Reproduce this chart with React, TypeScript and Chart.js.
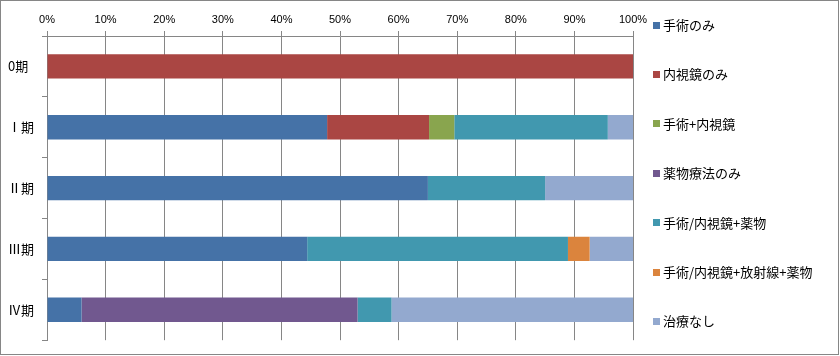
import React, { useEffect, useRef } from "react";
import { Chart, registerables } from "chart.js";

Chart.register(...registerables);

const categories = ["0期", "Ⅰ期", "Ⅱ期", "Ⅲ期", "Ⅳ期"];
const seriesNames = [
  "手術のみ",
  "内視鏡のみ",
  "手術+内視鏡",
  "薬物療法のみ",
  "手術/内視鏡+薬物",
  "手術/内視鏡+放射線+薬物",
  "治療なし",
];
const surgeryOnly = [0, 47.8, 65, 44.4, 5.9];
const endoscopyOnly = [100, 17.4, 0, 0, 0];
const surgeryEndoscopy = [0, 4.3, 0, 0, 0];
const drugOnly = [0, 0, 0, 0, 47.1];
const surgeryEndoDrug = [0, 26.2, 20, 44.5, 5.8];
const surgeryEndoRadDrug = [0, 0, 0, 3.7, 0];
const noTreatment = [0, 4.3, 15, 7.4, 41.2];
const tickValues = [0, 10, 20, 30, 40, 50, 60, 70, 80, 90, 100];
const colors = ["#4572A7", "#AA4643", "#89A54E", "#71588F", "#4198AF", "#DB843D", "#93A9CF"];

const seriesData = [
  surgeryOnly,
  endoscopyOnly,
  surgeryEndoscopy,
  drugOnly,
  surgeryEndoDrug,
  surgeryEndoRadDrug,
  noTreatment,
];

const AXIS = "#868686";
const FONT = "'Noto Sans CJK JP', 'Noto Sans', sans-serif";

export default function App() {
  const ref = useRef<HTMLCanvasElement | null>(null);

  useEffect(() => {
    document.body.style.margin = "0";
    const canvas = ref.current;
    if (!canvas) return;

    const legendPlugin = {
      id: "customLegend",
      afterDraw(chart: any) {
        const ctx = chart.ctx;
        ctx.save();
        chart.data.datasets.forEach((ds: any, i: number) => {
          const cy = 25 + i * 49.4;
          ctx.fillStyle = ds.backgroundColor;
          ctx.fillRect(653, Math.round(cy - 3.5), 7, 7);
          ctx.fillStyle = "#000";
          ctx.font = `13px ${FONT}`;
          ctx.textBaseline = "middle";
          ctx.textAlign = "left";
          ctx.fillText(ds.label, 663, cy);
        });
        ctx.strokeStyle = AXIS;
        ctx.lineWidth = 1;
        ctx.strokeRect(0.5, 0.5, 838, 354);
        ctx.restore();
      },
    };

    const chart = new Chart(canvas, {
      type: "bar",
      data: {
        labels: categories,
        datasets: seriesNames.map((name, i) => ({
          label: name,
          data: seriesData[i],
          backgroundColor: colors[i],
          borderWidth: 0,
          categoryPercentage: 0.4,
          barPercentage: 1,
        })),
      },
      options: {
        indexAxis: "y",
        animation: false,
        responsive: false,
        maintainAspectRatio: false,
        layout: { padding: { left: 8, top: 0, right: 207, bottom: 5 } },
        plugins: {
          legend: { display: false },
          tooltip: { enabled: false },
        },
        scales: {
          x: {
            position: "top",
            stacked: true,
            min: 0,
            max: 100,
            afterFit(scale: any) {
              scale.height = 36;
            },
            afterBuildTicks(scale: any) {
              scale.ticks = tickValues.map((v) => ({ value: v }));
            },
            ticks: {
              color: "#000",
              font: { size: 11, family: "'Liberation Sans', sans-serif" },
              padding: 4,
              callback: (v: any) => v + "%",
            },
            grid: { color: AXIS, tickLength: 5, drawTicks: true },
            border: { display: true, color: AXIS },
          },
          y: {
            stacked: true,
            afterFit(scale: any) {
              scale.width = 39;
            },
            ticks: {
              color: "#000",
              font: { size: 13, family: FONT },
              crossAlign: "far",
              padding: 8,
            },
            grid: {
              color: AXIS,
              drawOnChartArea: false,
              drawTicks: true,
              tickLength: 5,
              offset: true,
            },
            border: { display: true, color: AXIS },
          },
        },
      },
      plugins: [legendPlugin],
    } as any);

    return () => chart.destroy();
  }, []);

  return (
    <div style={{ width: 840, height: 356 }}>
      <canvas ref={ref} width={840} height={356} style={{ display: "block", width: 840, height: 356 }} />
    </div>
  );
}
